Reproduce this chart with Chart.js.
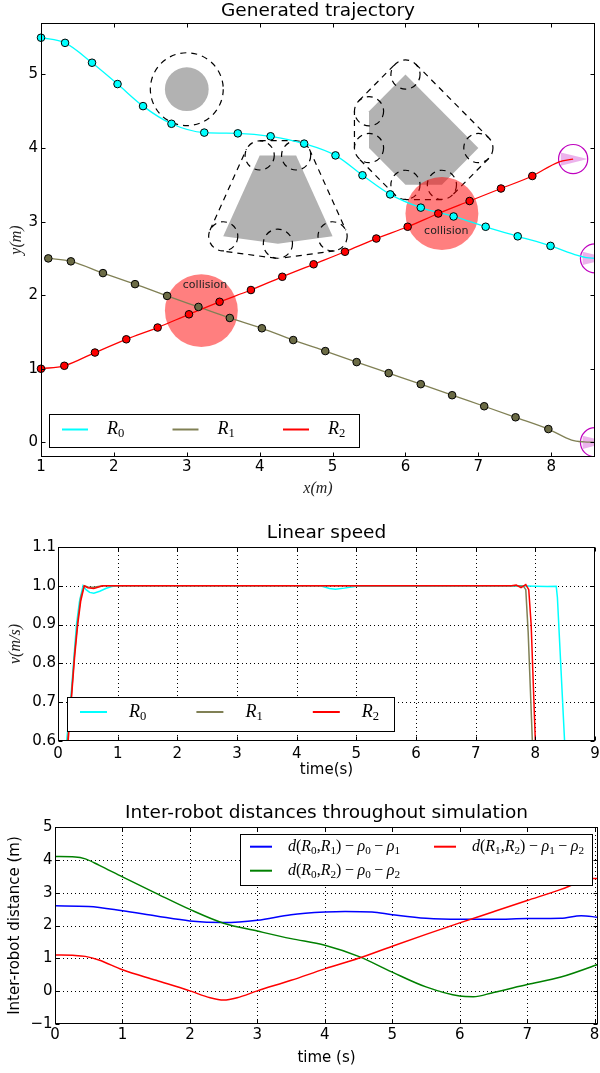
<!DOCTYPE html>
<html>
<head>
<meta charset="utf-8">
<script src="https://cdn.jsdelivr.net/npm/chart.js@4.4.1/dist/chart.umd.min.js"></script>
<style>
  body { margin: 0; background: #fff; }
  canvas { display: block; }
</style>
</head>
<body>
<canvas id="trajChart" width="600" height="500"></canvas>
<canvas id="speedChart" width="600" height="290"></canvas>
<canvas id="distChart" width="600" height="283"></canvas>
<script>
// --- Generated trajectory (metres), sampled markers + the tail to the goal ---
const r0MarkX = [1.00, 1.33, 1.70, 2.05, 2.40, 2.79, 3.24, 3.70, 4.15, 4.61, 5.04, 5.41, 5.79, 6.21, 6.66, 7.10, 7.54, 7.99];
const r0MarkY = [5.50, 5.43, 5.16, 4.87, 4.57, 4.33, 4.21, 4.20, 4.16, 4.06, 3.90, 3.63, 3.37, 3.19, 3.07, 2.93, 2.80, 2.67];
const r0TailX = [8.36, 8.48, 8.60];
const r0TailY = [2.54, 2.51, 2.50];

const r1MarkX = [1.10, 1.41, 1.85, 2.29, 2.73, 3.16, 3.59, 4.03, 4.46, 4.90, 5.33, 5.77, 6.21, 6.64, 7.08, 7.51, 7.96];
const r1MarkY = [2.50, 2.46, 2.30, 2.15, 1.99, 1.84, 1.69, 1.55, 1.39, 1.24, 1.09, 0.94, 0.79, 0.64, 0.49, 0.34, 0.18];
const r1TailX = [8.28, 8.45, 8.60];
const r1TailY = [0.03, 0.005, 0.00];

const r2MarkX = [1.00, 1.32, 1.74, 2.17, 2.60, 3.03, 3.45, 3.88, 4.31, 4.74, 5.17, 5.60, 6.03, 6.45, 6.88, 7.31, 7.74];
const r2MarkY = [1.00, 1.04, 1.22, 1.40, 1.56, 1.74, 1.91, 2.07, 2.25, 2.42, 2.59, 2.77, 2.93, 3.11, 3.28, 3.45, 3.62];
const r2TailX = [8.10, 8.30];
const r2TailY = [3.81, 3.85];

// goal poses (circle of radius goalR, heading in rad)
const goalX = [8.30, 8.60, 8.60];
const goalY = [3.85, 2.50, 0.00];
const goalHeading = [0, 0, 0];
const goalR = 0.2;

// obstacles
const circObsX = [3.0];
const circObsY = [4.8];
const circObsR = [0.3];
const trapX = [4.0, 4.5, 5.0, 4.25, 3.5];
const trapY = [3.9, 3.9, 2.8, 2.7, 2.8];
const hexX = [6.0, 7.0, 6.5, 6.0, 5.5, 5.5];
const hexY = [5.0, 4.0, 3.5, 3.5, 4.0, 4.5];
const inflate = 0.2;

// collisions
const collX = [3.20, 6.50];
const collY = [1.79, 3.11];
const collR = [0.5, 0.5];
const collTextX = [3.25, 6.56];
const collTextY = [2.13, 2.87];

const trajXTicks = [1, 2, 3, 4, 5, 6, 7, 8];
const trajYTicks = [0, 1, 2, 3, 4, 5];

// --- Linear speed (m/s) ---
const speedT0 = [0.00, 0.08, 0.145, 0.21, 0.26, 0.31, 0.36, 0.42, 0.47, 0.53, 0.60, 0.70, 0.80, 0.90, 1.00, 4.40, 4.55, 4.65, 4.80, 5.00, 6.00, 7.70, 8.00, 8.20, 8.35, 8.37, 8.49, 8.60];
const speedV0 = [0.00, 0.40, 0.60, 0.70, 0.80, 0.90, 0.96, 1.00, 0.99, 0.983, 0.981, 0.986, 0.993, 0.998, 1.000, 1.000, 0.993, 0.991, 0.994, 0.999, 0.999, 1.000, 0.999, 0.998, 0.999, 0.97, 0.60, 0.20];
const speedT1 = [0.00, 0.08, 0.16, 0.22, 0.28, 0.33, 0.38, 0.44, 0.50, 0.60, 0.75, 7.70, 7.80, 7.84, 7.88, 7.95, 8.02];
const speedV1 = [0.00, 0.38, 0.60, 0.71, 0.83, 0.91, 0.97, 1.00, 0.997, 0.996, 1.000, 1.000, 0.999, 0.99, 0.88, 0.60, 0.00];
const speedT2 = [0.00, 0.09, 0.17, 0.22, 0.28, 0.33, 0.38, 0.44, 0.50, 0.60, 0.75, 7.60, 7.68, 7.76, 7.84, 7.89, 7.93, 8.00, 8.08];
const speedV2 = [0.00, 0.38, 0.60, 0.70, 0.82, 0.90, 0.96, 1.00, 0.995, 0.993, 1.000, 1.000, 1.002, 0.995, 1.003, 0.99, 0.90, 0.60, 0.00];

const speedXTicks = [0, 1, 2, 3, 4, 5, 6, 7, 8, 9];
const speedYTicks = [0.6, 0.7, 0.8, 0.9, 1.0, 1.1];

// --- Inter-robot distances (m) ---
const d01T = [0, 0.5, 1, 1.5, 2, 2.5, 3, 3.5, 4, 4.3, 4.7, 5, 5.5, 6, 6.5, 7, 7.5, 7.8, 8.05];
const d01V = [2.60, 2.58, 2.45, 2.29, 2.14, 2.09, 2.16, 2.33, 2.41, 2.43, 2.41, 2.33, 2.22, 2.19, 2.19, 2.21, 2.22, 2.30, 2.25];
const d02T = [0, 0.3, 0.45, 0.65, 1, 1.5, 2, 2.5, 3, 3.5, 4, 4.5, 5, 5.5, 6, 6.2, 6.5, 7, 7.5, 8, 8.05];
const d02V = [4.10, 4.09, 4.03, 3.84, 3.48, 2.98, 2.49, 2.07, 1.83, 1.60, 1.40, 1.06, 0.58, 0.13, -0.15, -0.17, -0.04, 0.20, 0.43, 0.78, 0.82];
const d12T = [0, 0.3, 0.45, 0.65, 1, 1.5, 2, 2.3, 2.5, 2.7, 3, 3.5, 4, 4.5, 5, 5.5, 6, 6.5, 7, 7.5, 7.75, 7.95, 8.05];
const d12V = [1.10, 1.09, 1.06, 0.95, 0.65, 0.33, 0.01, -0.20, -0.27, -0.20, 0.01, 0.33, 0.68, 1.00, 1.37, 1.73, 2.08, 2.42, 2.76, 3.10, 3.30, 3.43, 3.43];

const distXTicks = [0, 1, 2, 3, 4, 5, 6, 7, 8];
const distYTicks = [-1, 0, 1, 2, 3, 4, 5];

Chart.defaults.font.family = '"DejaVu Sans", sans-serif';
Chart.defaults.color = '#000';
Chart.defaults.animation = false;

const CYAN = '#00ffff', OLIVE = '#808055', OLIVE_DARK = '#6b6b45', RED = '#ff0000';
const TICK_FONT = { size: 15 };
const TITLE_FONT = { size: 18.5, weight: 'normal' };
const pts = (xs, ys) => xs.map((v, i) => ({ x: v, y: ys[i] }));

// math-ish text: '_' makes the next char a subscript, letters italic
function drawMath(ctx, text, x, y, size) {
    let cx = x;
    for (let i = 0; i < text.length; i++) {
        let ch = text[i], sub = false;
        if (ch === '_') { sub = true; ch = text[++i]; }
        const italic = /[A-Za-z\u03c1]/.test(ch);
        const s = sub ? size * 0.7 : size;
        ctx.font = (italic ? 'italic ' : '') + s + 'px "Liberation Serif", serif';
        if (ch === '\u2212') cx += size * 0.22;
        ctx.fillText(ch, cx, y + (sub ? size * 0.25 : 0));
        cx += ctx.measureText(ch).width;
        if (ch === '\u2212') cx += size * 0.22;
    }
}

function drawLegendBox(ctx, left, top, w, h) {
    ctx.fillStyle = '#fff';
    ctx.fillRect(left, top, w, h);
    ctx.strokeStyle = '#000';
    ctx.lineWidth = 1;
    ctx.strokeRect(Math.round(left) + 0.5, Math.round(top) + 0.5, Math.round(w), Math.round(h));
}

function legendLine(ctx, x1, x2, y, color) {
    ctx.strokeStyle = color;
    ctx.lineWidth = 2;
    ctx.beginPath();
    ctx.moveTo(x1, y);
    ctx.lineTo(x2, y);
    ctx.stroke();
}

// frame, inward ticks on 4 sides, optional dotted grid
const framePlugin = {
    id: 'frame',
    beforeDatasetsDraw(chart, args, opts) {
        if (!opts.grid) return;
        const { ctx, chartArea: a, scales: { x, y } } = chart;
        ctx.save();
        ctx.strokeStyle = '#000';
        ctx.lineWidth = 1;
        ctx.setLineDash([1, 3]);
        x.ticks.forEach(t => {
            const p = Math.round(x.getPixelForValue(t.value)) + 0.5;
            if (p < a.left + 2 || p > a.right - 2) return;
            ctx.beginPath(); ctx.moveTo(p, a.top); ctx.lineTo(p, a.bottom); ctx.stroke();
        });
        y.ticks.forEach(t => {
            const p = Math.round(y.getPixelForValue(t.value)) + 0.5;
            if (p < a.top + 2 || p > a.bottom - 2) return;
            ctx.beginPath(); ctx.moveTo(a.left, p); ctx.lineTo(a.right, p); ctx.stroke();
        });
        ctx.restore();
    },
    afterDatasetsDraw(chart) {
        const { ctx, chartArea: a, scales: { x, y } } = chart;
        ctx.save();
        ctx.strokeStyle = '#000';
        ctx.lineWidth = 1;
        ctx.setLineDash([]);
        const L = Math.round(a.left) + 0.5, R = Math.round(a.right) - 0.5;
        const T = Math.round(a.top) + 0.5, B = Math.round(a.bottom) - 0.5;
        ctx.beginPath();
        x.ticks.forEach(t => {
            const p = Math.round(x.getPixelForValue(t.value)) + 0.5;
            if (p < L - 1 || p > R + 1) return;
            ctx.moveTo(p, B); ctx.lineTo(p, B - 4);
            ctx.moveTo(p, T); ctx.lineTo(p, T + 4);
        });
        y.ticks.forEach(t => {
            const p = Math.round(y.getPixelForValue(t.value)) + 0.5;
            if (p < T - 1 || p > B + 1) return;
            ctx.moveTo(L, p); ctx.lineTo(L + 4, p);
            ctx.moveTo(R, p); ctx.lineTo(R - 4, p);
        });
        ctx.stroke();
        ctx.strokeRect(L, T, R - L, B - T);
        ctx.restore();
    }
};

function fixAxis(size, isX) {
    return (scale) => {
        if (isX) scale.height = size; else scale.width = size;
        scale.paddingLeft = scale.paddingRight = scale.paddingTop = scale.paddingBottom = 0;
    };
}
const setTicks = (list) => (scale) => { scale.ticks = list.map(v => ({ value: v })); };

// ---------------- Chart 1: trajectories ----------------
function polyPath(ctx, xs, ys, px, py) {
    ctx.beginPath();
    xs.forEach((v, i) => i ? ctx.lineTo(px(v), py(ys[i])) : ctx.moveTo(px(v), py(ys[i])));
    ctx.closePath();
}

function inflatedOutline(ctx, xs, ys, r, px, py, unit) {
    let area = 0;
    for (let i = 0; i < xs.length; i++) {
        const j = (i + 1) % xs.length;
        area += xs[i] * ys[j] - xs[j] * ys[i];
    }
    const sgn = area > 0 ? 1 : -1;
    for (let i = 0; i < xs.length; i++) {
        const j = (i + 1) % xs.length;
        const dx = xs[j] - xs[i], dy = ys[j] - ys[i];
        const len = Math.hypot(dx, dy);
        const nx = sgn * dy / len * r, ny = -sgn * dx / len * r;
        ctx.beginPath();
        ctx.moveTo(px(xs[i] + nx), py(ys[i] + ny));
        ctx.lineTo(px(xs[j] + nx), py(ys[j] + ny));
        ctx.stroke();
        ctx.beginPath();
        ctx.arc(px(xs[i]), py(ys[i]), r * unit, 0, Math.PI * 2);
        ctx.stroke();
    }
}

const worldPlugin = {
    id: 'world',
    beforeDatasetsDraw(chart) {
        const { ctx, chartArea: a, scales: { x, y } } = chart;
        const px = v => x.getPixelForValue(v), py = v => y.getPixelForValue(v);
        const unit = Math.abs(px(1) - px(0));
        ctx.save();
        ctx.beginPath();
        ctx.rect(a.left, a.top, a.width, a.height);
        ctx.clip();

        // obstacles
        ctx.fillStyle = '#b2b2b2';
        circObsX.forEach((cx, i) => {
            ctx.beginPath();
            ctx.arc(px(cx), py(circObsY[i]), circObsR[i] * unit, 0, Math.PI * 2);
            ctx.fill();
        });
        polyPath(ctx, trapX, trapY, px, py); ctx.fill();
        polyPath(ctx, hexX, hexY, px, py); ctx.fill();

        // safety margins
        ctx.strokeStyle = '#000';
        ctx.lineWidth = 1.2;
        ctx.setLineDash([6, 5]);
        circObsX.forEach((cx, i) => {
            ctx.beginPath();
            ctx.arc(px(cx), py(circObsY[i]), (circObsR[i] + inflate) * unit, 0, Math.PI * 2);
            ctx.stroke();
        });
        inflatedOutline(ctx, trapX, trapY, inflate, px, py, unit);
        inflatedOutline(ctx, hexX, hexY, inflate, px, py, unit);
        ctx.setLineDash([]);

        // collisions
        ctx.fillStyle = 'rgba(255, 0, 0, 0.5)';
        collX.forEach((cx, i) => {
            ctx.beginPath();
            ctx.arc(px(cx), py(collY[i]), collR[i] * unit, 0, Math.PI * 2);
            ctx.fill();
        });

        // goals
        goalX.forEach((gx, i) => {
            const h = goalHeading[i], c = Math.cos(h), s = Math.sin(h);
            const tri = [[-0.17, 0.09], [-0.17, -0.09], [0.2, 0]];
            ctx.fillStyle = 'rgba(191, 0, 191, 0.3)';
            ctx.beginPath();
            tri.forEach(([u, v], k) => {
                const X = px(gx + u * c - v * s), Y = py(goalY[i] + u * s + v * c);
                k ? ctx.lineTo(X, Y) : ctx.moveTo(X, Y);
            });
            ctx.closePath();
            ctx.fill();
            ctx.strokeStyle = '#bf00bf';
            ctx.lineWidth = 1.2;
            ctx.beginPath();
            ctx.arc(px(gx), py(goalY[i]), goalR * unit, 0, Math.PI * 2);
            ctx.stroke();
        });
        ctx.restore();
    },
    afterDatasetsDraw(chart) {
        const { ctx, scales: { x, y } } = chart;
        ctx.save();
        ctx.fillStyle = '#222';
        ctx.font = '11px "DejaVu Sans"';
        ctx.textAlign = 'center';
        ctx.textBaseline = 'middle';
        collTextX.forEach((tx, i) => ctx.fillText('collision', x.getPixelForValue(tx), y.getPixelForValue(collTextY[i])));
        ctx.restore();
    },
    afterDraw(chart) {
        const { ctx, chartArea: a } = chart;
        const left = a.left + 8, top = a.bottom - 43;
        ctx.save();
        drawLegendBox(ctx, left, top, 310, 33);
        const colors = [CYAN, OLIVE, RED];
        ctx.textBaseline = 'middle';
        ctx.textAlign = 'left';
        colors.forEach((col, i) => {
            const ox = left + 110.5 * i;
            legendLine(ctx, ox + 13, ox + 39, top + 15.5, col);
            ctx.fillStyle = '#000';
            drawMath(ctx, 'R_' + i, ox + 58, top + 15.5, 18);
        });
        ctx.restore();
    }
};

new Chart(document.getElementById('trajChart'), {
    type: 'scatter',
    data: {
        datasets: [
            { data: pts(r0MarkX.concat(r0TailX), r0MarkY.concat(r0TailY)), showLine: true, borderColor: CYAN, borderWidth: 1.3, pointRadius: 0, cubicInterpolationMode: 'monotone', order: 5 },
            { data: pts(r1MarkX.concat(r1TailX), r1MarkY.concat(r1TailY)), showLine: true, borderColor: OLIVE, borderWidth: 1.3, pointRadius: 0, cubicInterpolationMode: 'monotone', order: 5 },
            { data: pts(r2MarkX.concat(r2TailX), r2MarkY.concat(r2TailY)), showLine: true, borderColor: RED, borderWidth: 1.3, pointRadius: 0, cubicInterpolationMode: 'monotone', order: 4 },
            { data: pts(r0MarkX, r0MarkY), showLine: false, pointRadius: 3.8, pointBackgroundColor: CYAN, pointBorderColor: '#000', pointBorderWidth: 1, clip: false, order: 1 },
            { data: pts(r1MarkX, r1MarkY), showLine: false, pointRadius: 3.8, pointBackgroundColor: OLIVE_DARK, pointBorderColor: '#000', pointBorderWidth: 1, clip: false, order: 1 },
            { data: pts(r2MarkX, r2MarkY), showLine: false, pointRadius: 3.8, pointBackgroundColor: RED, pointBorderColor: '#000', pointBorderWidth: 1, clip: false, order: 0 }
        ]
    },
    options: {
        responsive: false,
        layout: { padding: { left: 0, right: 1, top: 0, bottom: 0 } },
        plugins: {
            legend: { display: false },
            tooltip: { enabled: false },
            title: { display: true, text: 'Generated trajectory', fullSize: false, font: TITLE_FONT, padding: { top: 0.4, bottom: 0.4 } },
            frame: { grid: false }
        },
        scales: {
            x: {
                type: 'linear', min: 1, max: 8.6,
                grid: { display: false, drawTicks: false, tickLength: 0 }, border: { display: false },
                afterBuildTicks: setTicks(trajXTicks), afterFit: fixAxis(43, true),
                ticks: { font: TICK_FONT, padding: 1.5, autoSkip: false, maxRotation: 0 },
                title: { display: true, text: 'x(m)', color: '#222', font: { family: '"Liberation Serif", serif', style: 'italic', size: 16 }, padding: { top: 0, bottom: 1.4 } }
            },
            y: {
                type: 'linear', min: -0.2, max: 5.7,
                grid: { display: false, drawTicks: false, tickLength: 0 }, border: { display: false },
                afterBuildTicks: setTicks(trajYTicks), afterFit: fixAxis(41, false),
                ticks: { font: TICK_FONT, padding: 3, autoSkip: false },
                title: { display: true, text: 'y(m)', color: '#222', font: { family: '"Liberation Serif", serif', style: 'italic', size: 16 }, padding: { top: 7, bottom: 0 } }
            }
        }
    },
    plugins: [worldPlugin, framePlugin]
});

// ---------------- Chart 2: linear speed ----------------
const speedLegend = {
    id: 'speedLegend',
    afterDraw(chart) {
        const { ctx, chartArea: a } = chart;
        const left = a.left + 9, top = a.top + 150;
        ctx.save();
        drawLegendBox(ctx, left, top, 327, 34);
        ctx.textBaseline = 'middle';
        ctx.textAlign = 'left';
        [CYAN, OLIVE, RED].forEach((col, i) => {
            const ox = left + 116.4 * i;
            legendLine(ctx, ox + 13, ox + 40, top + 15, col);
            ctx.fillStyle = '#000';
            drawMath(ctx, 'R_' + i, ox + 62, top + 15, 18);
        });
        ctx.restore();
    }
};

new Chart(document.getElementById('speedChart'), {
    type: 'scatter',
    data: {
        datasets: [
            { data: pts(speedT0, speedV0), showLine: true, borderColor: CYAN, borderWidth: 1.5, pointRadius: 0, tension: 0, order: 2 },
            { data: pts(speedT1, speedV1), showLine: true, borderColor: OLIVE, borderWidth: 1.5, pointRadius: 0, tension: 0, order: 1 },
            { data: pts(speedT2, speedV2), showLine: true, borderColor: RED, borderWidth: 1.5, pointRadius: 0, tension: 0, order: 0 }
        ]
    },
    options: {
        responsive: false,
        layout: { padding: { left: 0, right: 5, top: 0, bottom: 0 } },
        plugins: {
            legend: { display: false },
            tooltip: { enabled: false },
            title: { display: true, text: 'Linear speed', fullSize: false, font: TITLE_FONT, padding: { top: 21.9, bottom: 2.9 } },
            frame: { grid: true }
        },
        scales: {
            x: {
                type: 'linear', min: 0, max: 9,
                grid: { display: false, drawTicks: false, tickLength: 0 }, border: { display: false },
                afterBuildTicks: setTicks(speedXTicks), afterFit: fixAxis(49, true),
                ticks: { font: TICK_FONT, padding: 4, autoSkip: false, maxRotation: 0 },
                title: { display: true, text: 'time(s)', font: { size: 15 }, padding: { top: 0, bottom: 10.5 } }
            },
            y: {
                type: 'linear', min: 0.6, max: 1.1,
                grid: { display: false, drawTicks: false, tickLength: 0 }, border: { display: false },
                afterBuildTicks: setTicks(speedYTicks), afterFit: fixAxis(58, false),
                ticks: { font: TICK_FONT, padding: 2, autoSkip: false, callback: v => v.toFixed(1) },
                title: { display: true, text: 'v(m/s)', color: '#222', font: { family: '"Liberation Serif", serif', style: 'italic', size: 16 }, padding: { top: 6, bottom: 0 } }
            }
        }
    },
    plugins: [framePlugin, speedLegend]
});

// ---------------- Chart 3: inter-robot distances ----------------
const distLegend = {
    id: 'distLegend',
    afterDraw(chart) {
        const { ctx, chartArea: a } = chart;
        const left = a.left + 185, top = a.top + 7;
        ctx.save();
        drawLegendBox(ctx, left, top, 352, 51);
        ctx.textBaseline = 'middle';
        ctx.textAlign = 'left';
        const items = [
            ['#0000ff', 'd(R_0,R_1)\u2212\u03c1_0\u2212\u03c1_1', 0, 0],
            ['#008000', 'd(R_0,R_2)\u2212\u03c1_0\u2212\u03c1_2', 0, 1],
            ['#ff0000', 'd(R_1,R_2)\u2212\u03c1_1\u2212\u03c1_2', 1, 0]
        ];
        items.forEach(([col, label, c, r]) => {
            const ox = left + 184 * c, oy = top + 12.7 + 24 * r;
            legendLine(ctx, ox + 10, ox + 32, oy, col);
            ctx.fillStyle = '#000';
            drawMath(ctx, label, ox + 48, oy, 16);
        });
        ctx.restore();
    }
};

new Chart(document.getElementById('distChart'), {
    type: 'scatter',
    data: {
        datasets: [
            { data: pts(d01T, d01V), showLine: true, borderColor: '#0000ff', borderWidth: 1.5, pointRadius: 0, cubicInterpolationMode: 'monotone', order: 2 },
            { data: pts(d02T, d02V), showLine: true, borderColor: '#008000', borderWidth: 1.5, pointRadius: 0, cubicInterpolationMode: 'monotone', order: 1 },
            { data: pts(d12T, d12V), showLine: true, borderColor: '#ff0000', borderWidth: 1.5, pointRadius: 0, cubicInterpolationMode: 'monotone', order: 0 }
        ]
    },
    options: {
        responsive: false,
        layout: { padding: { left: 0, right: 2, top: 0, bottom: 0 } },
        plugins: {
            legend: { display: false },
            tooltip: { enabled: false },
            title: { display: true, text: 'Inter-robot distances throughout simulation', fullSize: false, font: TITLE_FONT, padding: { top: 11.9, bottom: 2.9 } },
            frame: { grid: true }
        },
        scales: {
            x: {
                type: 'linear', min: 0, max: 8.05,
                grid: { display: false, drawTicks: false, tickLength: 0 }, border: { display: false },
                afterBuildTicks: setTicks(distXTicks), afterFit: fixAxis(49, true),
                ticks: { font: TICK_FONT, padding: 2, autoSkip: false, maxRotation: 0 },
                title: { display: true, text: 'time (s)', font: { size: 15 }, padding: { top: 0, bottom: 5.6 } }
            },
            y: {
                type: 'linear', min: -1, max: 5,
                grid: { display: false, drawTicks: false, tickLength: 0 }, border: { display: false },
                afterBuildTicks: setTicks(distYTicks), afterFit: fixAxis(55, false),
                ticks: { font: TICK_FONT, padding: 2.5, autoSkip: false, callback: v => v < 0 ? '\u2212' + Math.abs(v) : String(v) },
                title: { display: true, text: 'Inter-robot distance (m)', font: { size: 15 }, padding: { top: 6, bottom: 0 } }
            }
        }
    },
    plugins: [framePlugin, distLegend]
});
</script>
</body>
</html>
